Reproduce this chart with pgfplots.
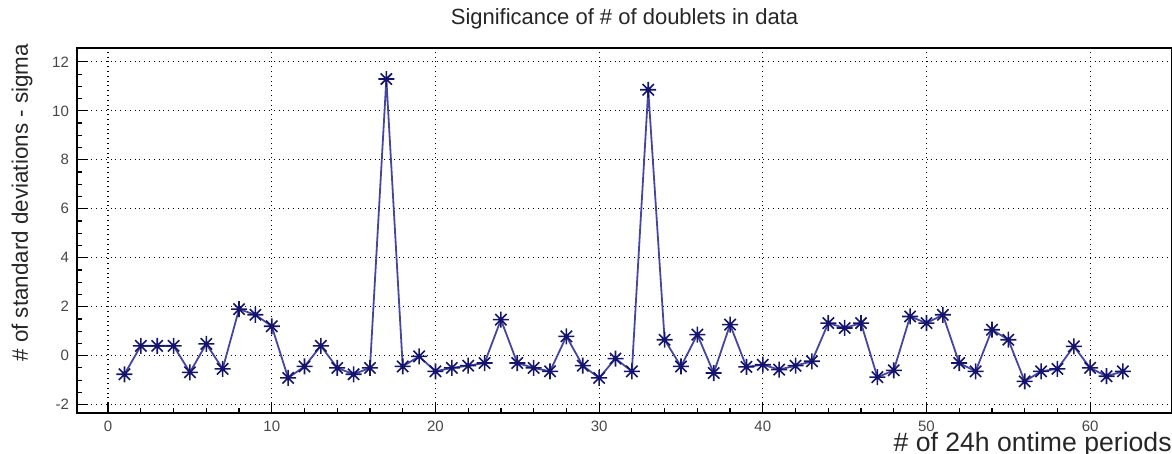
\documentclass[border=0pt]{standalone}
\usepackage{pgfplots}
\pgfplotsset{compat=1.18}
\usepackage{fontspec}
\setmainfont{Liberation Sans}
\usetikzlibrary{calc}
\definecolor{navy}{RGB}{20,20,110}
\definecolor{lnavy}{RGB}{70,70,160}
\pgfdeclareplotmark{rootstar}{%
  \pgfpathmoveto{\pgfqpoint{-\pgfplotmarksize}{0pt}}\pgfpathlineto{\pgfqpoint{\pgfplotmarksize}{0pt}}%
  \pgfpathmoveto{\pgfqpoint{0pt}{-\pgfplotmarksize}}\pgfpathlineto{\pgfqpoint{0pt}{\pgfplotmarksize}}%
  \pgfpathmoveto{\pgfqpoint{-0.707\pgfplotmarksize}{-0.707\pgfplotmarksize}}\pgfpathlineto{\pgfqpoint{0.707\pgfplotmarksize}{0.707\pgfplotmarksize}}%
  \pgfpathmoveto{\pgfqpoint{-0.707\pgfplotmarksize}{0.707\pgfplotmarksize}}\pgfpathlineto{\pgfqpoint{0.707\pgfplotmarksize}{-0.707\pgfplotmarksize}}%
  \pgfusepathqstroke}
\begin{document}
\begin{tikzpicture}
\begin{axis}[
  scale only axis,
  width=547.5pt, height=182.5pt,
  xmin=-1.9, xmax=65, ymin=-2.33, ymax=12.58,
  xtick={0,10,20,30,40,50,60},
  ytick={-2,0,2,4,6,8,10,12},
  minor x tick num=4,
  minor y tick num=3,
  tick align=inside,
  xtick pos=bottom, ytick pos=left,
  major tick length=5pt, minor tick length=2.5pt,
  grid=major,
  major grid style={black, dotted, line width=0.6pt},
  axis line style={black, line width=1pt},
  tick style={black, line width=0.6pt},
  ticklabel style={font=\fontsize{7.5}{8}\selectfont, text=black!72},
  /pgf/number format/assume math mode=true,
  xticklabel style={yshift=-0.5pt},
  yticklabel style={xshift=-0.5pt},
  title={Significance of \# of doublets in data},
  title style={font=\fontsize{11}{12}\selectfont, text=black!85, at={(0.5,1)}, anchor=center, yshift=8.5pt},
  ylabel={\# of standard deviations - sigma},
  ylabel style={font=\fontsize{11.2}{12}\selectfont, text=black!85, at={(rel axis cs:0,0.575)}, anchor=center, yshift=27.5pt},
  xlabel={\# of 24h ontime periods},
  xlabel style={font=\fontsize{13.3}{14}\selectfont, text=black!85, at={(rel axis cs:1,0)}, anchor=east, yshift=-16pt, inner xsep=0pt},
]
\addplot[color=lnavy, line width=0.9pt, mark=rootstar, mark size=4pt, mark options={navy, line width=0.8pt}] coordinates {
(1,-0.76) (2,0.4) (3,0.4) (4,0.4) (5,-0.68) (6,0.48) (7,-0.54) (8,1.9) (9,1.67) (10,1.2)
(11,-0.91) (12,-0.44) (13,0.4) (14,-0.5) (15,-0.76) (16,-0.5) (17,11.3) (18,-0.44) (19,-0.03) (20,-0.64)
(21,-0.5) (22,-0.41) (23,-0.3) (24,1.47) (25,-0.3) (26,-0.5) (27,-0.64) (28,0.79) (29,-0.41) (30,-0.91)
(31,-0.12) (32,-0.64) (33,10.86) (34,0.65) (35,-0.44) (36,0.86) (37,-0.71) (38,1.27) (39,-0.46) (40,-0.37)
(41,-0.57) (42,-0.41) (43,-0.23) (44,1.33) (45,1.13) (46,1.33) (47,-0.88) (48,-0.6) (49,1.6) (50,1.33)
(51,1.67) (52,-0.3) (53,-0.64) (54,1.06) (55,0.65) (56,-1.05) (57,-0.64) (58,-0.54) (59,0.38) (60,-0.5)
(61,-0.84) (62,-0.64)
};
\end{axis}
\pgfresetboundingbox
\path ($(current axis.south west)+(-38.5pt,-20.5pt)$) rectangle ($(current axis.north east)+(0pt,23.85pt)$);
\end{tikzpicture}
\end{document}
